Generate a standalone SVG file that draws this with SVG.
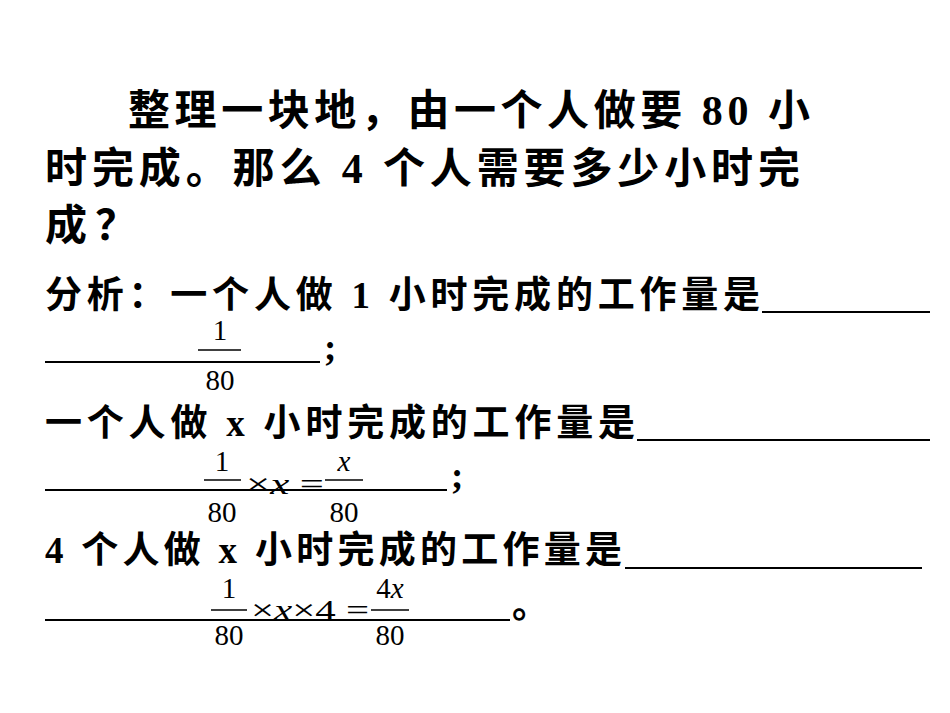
<svg xmlns="http://www.w3.org/2000/svg" width="950" height="713" viewBox="0 0 950 713">
<style>
.t{font-family:"Liberation Serif","Noto Sans CJK SC",serif;font-weight:bold;fill:#000}
.h{font-size:42px}
.b{font-size:37px}
.f{font-family:"Liberation Serif",serif;font-size:29px;fill:#000}
.i{font-style:italic}
line{stroke:#000}
.u{stroke-width:2}
.fb{stroke-width:1.5}
</style>
<rect width="950" height="713" fill="#fff"/>
<g id="question">
<text class="t h" x="128" y="125" textLength="682" lengthAdjust="spacing">整理一块地，由一个人做要 80 小</text>
<text class="t h" x="45" y="183" textLength="755" lengthAdjust="spacing">时完成。那么 4 个人需要多少小时完</text>
<text class="t h" x="45" y="240" textLength="92" lengthAdjust="spacing">成？</text>
</g>
<g id="analysis1">
<text class="t b" x="45" y="308" textLength="715" lengthAdjust="spacing">分析：一个人做 1 小时完成的工作量是</text>
<line class="u" x1="762" y1="312" x2="930" y2="312"/>
<line class="u" x1="45" y1="362" x2="320" y2="362"/>
<text class="t b" x="324" y="360">;</text>
<text class="f" x="220" y="340" text-anchor="middle">1</text>
<line class="fb" x1="198" y1="350" x2="241" y2="350"/>
<text class="f" x="220" y="390" text-anchor="middle">80</text>
</g>
<g id="analysis2">
<text class="t b" x="45" y="436" textLength="590" lengthAdjust="spacing">一个人做 x 小时完成的工作量是</text>
<line class="u" x1="637" y1="440" x2="930" y2="440"/>
<line class="u" x1="45" y1="490" x2="447" y2="490"/>
<text class="t b" x="451" y="488">;</text>
<text class="f" x="222" y="471" text-anchor="middle">1</text>
<line class="fb" x1="204" y1="480" x2="241" y2="480"/>
<text class="f" x="222" y="522" text-anchor="middle">80</text>
<text class="f" x="246" y="494" textLength="78" lengthAdjust="spacingAndGlyphs">×<tspan class="i">x</tspan> =</text>
<text class="f i" x="344" y="471" text-anchor="middle">x</text>
<line class="fb" x1="325" y1="480" x2="363" y2="480"/>
<text class="f" x="344" y="522" text-anchor="middle">80</text>
</g>
<g id="analysis3">
<text class="t b" x="45" y="563" textLength="577" lengthAdjust="spacing">4 个人做 x 小时完成的工作量是</text>
<line class="u" x1="625" y1="568" x2="922" y2="568"/>
<line class="u" x1="45" y1="620" x2="510" y2="620"/>
<text class="t b" x="512" y="618">。</text>
<text class="f" x="229" y="598" text-anchor="middle">1</text>
<line class="fb" x1="211" y1="610" x2="247" y2="610"/>
<text class="f" x="229" y="645" text-anchor="middle">80</text>
<text class="f" x="251" y="620" textLength="118" lengthAdjust="spacingAndGlyphs">×<tspan class="i">x</tspan>×4 =</text>
<text class="f" x="390" y="598" text-anchor="middle">4<tspan class="i">x</tspan></text>
<line class="fb" x1="371" y1="610" x2="409" y2="610"/>
<text class="f" x="390" y="645" text-anchor="middle">80</text>
</g>
</svg>
